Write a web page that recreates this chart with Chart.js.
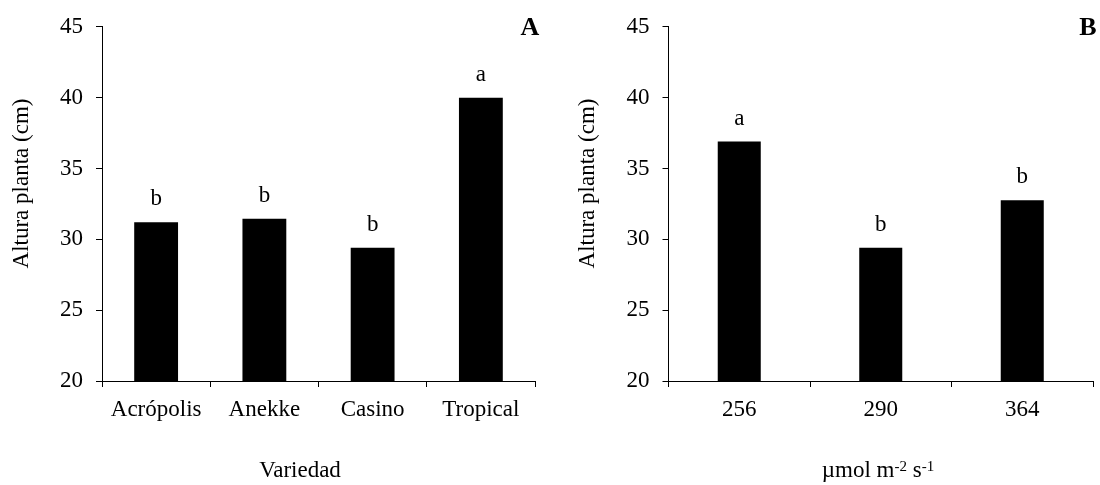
<!DOCTYPE html>
<html>
<head>
<meta charset="utf-8">
<script src="https://cdn.jsdelivr.net/npm/chart.js@4.4.0/dist/chart.umd.min.js"></script>
<style>
html, body { margin: 0; padding: 0; background: #fff; }
.panel { position: absolute; top: 0; width: 550px; height: 485px; }
</style>
</head>
<body>
<div class="panel" style="left:0"><canvas id="chartA" width="550" height="485"></canvas></div>
<div class="panel" style="left:550px"><canvas id="chartB" width="550" height="485"></canvas></div>
<script>
// A: altura de planta por variedad
var variedades = ['Acrópolis', 'Anekke', 'Casino', 'Tropical'];
var alturaVariedad = [31.2, 31.45, 29.4, 40.0];
var letrasVariedad = ['b', 'b', 'b', 'a'];

// B: altura de planta por radiación (µmol m-2 s-1)
var radiacion = ['256', '290', '364'];
var alturaRadiacion = [36.9, 29.4, 32.75];
var letrasRadiacion = ['a', 'b', 'b'];

var yMin = 20, yMax = 45, yPaso = 5;

var FUENTE = '"Liberation Serif", "Times New Roman", serif';

// letras de significancia, letra del panel y títulos de ejes
var textos = {
  id: 'textos',
  afterDraw: function(chart, args, o) {
    var ctx = chart.ctx;
    var meta = chart.getDatasetMeta(0);
    ctx.save();
    ctx.fillStyle = '#000';

    ctx.font = '23px ' + FUENTE;
    ctx.textAlign = 'center';
    ctx.textBaseline = 'alphabetic';
    meta.data.forEach(function(bar, i) {
      ctx.fillText(o.letras[i], bar.x, bar.y - 17);
    });

    ctx.font = 'bold 26px ' + FUENTE;
    ctx.fillText(o.panel, o.panelX, 35);

    // título eje y
    ctx.save();
    ctx.font = '23px ' + FUENTE;
    ctx.translate(o.tituloYX, 183.5);
    ctx.rotate(-Math.PI / 2);
    ctx.textBaseline = 'middle';
    ctx.fillText('Altura planta (cm)', 0, 0);
    ctx.restore();

    // título eje x, con superíndices
    var total = 0;
    o.tituloX.forEach(function(p) {
      ctx.font = (p.sup ? '15px ' : '23px ') + FUENTE;
      p.w = ctx.measureText(p.t).width;
      total += p.w;
    });
    var x = o.tituloXCentro - total / 2;
    ctx.textAlign = 'left';
    o.tituloX.forEach(function(p) {
      ctx.font = (p.sup ? '15px ' : '23px ') + FUENTE;
      ctx.fillText(p.t, x, p.sup ? 471 : 477);
      x += p.w;
    });
    ctx.restore();
  }
};

function grafico(id, etiquetas, valores, letras, cfg) {
  return new Chart(document.getElementById(id), {
    type: 'bar',
    data: {
      labels: etiquetas,
      datasets: [{
        data: valores,
        backgroundColor: '#000',
        borderWidth: 0,
        categoryPercentage: 1,
        barPercentage: cfg.barra
      }]
    },
    options: {
      responsive: false,
      animation: false,
      layout: { padding: { top: 26, right: cfg.derecha, left: 0, bottom: 0 } },
      plugins: {
        legend: { display: false },
        tooltip: { enabled: false },
        textos: {
          letras: letras,
          panel: cfg.panel,
          panelX: cfg.panelX,
          tituloYX: cfg.tituloYX,
          tituloX: cfg.tituloX,
          tituloXCentro: cfg.tituloXCentro
        }
      },
      scales: {
        x: {
          afterFit: function(s) { s.height = 104; },
          grid: { drawOnChartArea: false, tickLength: 6, color: '#000', offset: true },
          border: { color: '#000', width: 1 },
          ticks: { color: '#000', padding: 9, font: { family: FUENTE, size: 23 }, maxRotation: 0 }
        },
        y: {
          min: yMin,
          max: yMax,
          afterFit: function(s) { s.width = cfg.izquierda; },
          grid: { drawOnChartArea: false, tickLength: 6, color: '#000' },
          border: { color: '#000', width: 1 },
          ticks: { stepSize: yPaso, color: '#000', padding: 13, font: { family: FUENTE, size: 23 } }
        }
      }
    },
    plugins: [textos]
  });
}

grafico('chartA', variedades, alturaVariedad, letrasVariedad, {
  izquierda: 102, derecha: 15, barra: 0.405,
  panel: 'A', panelX: 530, tituloYX: 21.5,
  tituloX: [{ t: 'Variedad' }], tituloXCentro: 300
});

grafico('chartB', radiacion, alturaRadiacion, letrasRadiacion, {
  izquierda: 118.5, derecha: 7, barra: 0.304,
  panel: 'B', panelX: 538, tituloYX: 37.6,
  tituloX: [{ t: 'µmol m' }, { t: '-2', sup: true }, { t: ' s' }, { t: '-1', sup: true }],
  tituloXCentro: 328
});
</script>
</body>
</html>
